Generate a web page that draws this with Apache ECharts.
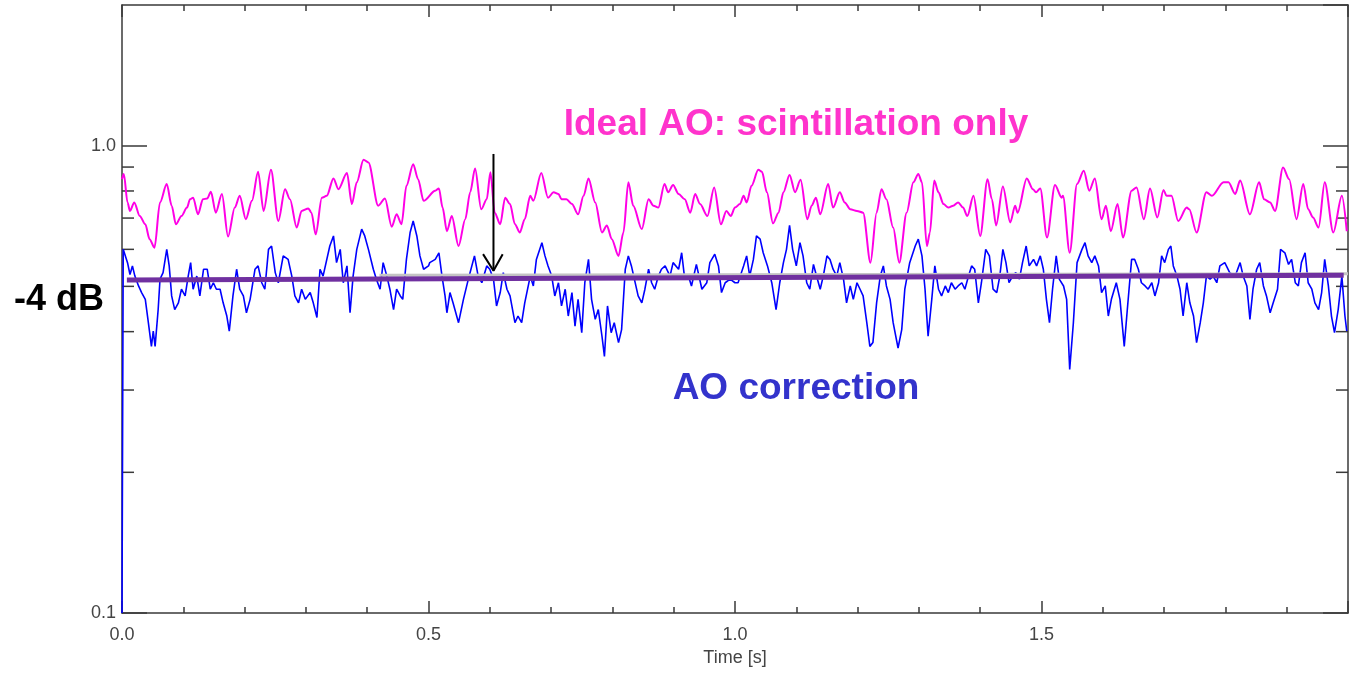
<!DOCTYPE html>
<html>
<head>
<meta charset="utf-8">
<style>
html,body{margin:0;padding:0;background:#fff;}
#chart{width:1352px;height:673px;}
</style>
<script src="https://cdn.jsdelivr.net/npm/echarts@6/dist/echarts.min.js"></script>
</head>
<body>
<div id="chart"></div>
<script>
// ---- Data (time in s, amplitude on log scale) ----
// Ideal AO: scintillation only (magenta)
const idealT = [0.000,0.003,0.009,0.013,0.020,0.029,0.038,0.045,0.053,0.062,0.073,0.081,0.088,0.097,0.106,0.111,0.116,0.124,0.132,0.139,0.145,0.153,0.163,0.173,0.184,0.192,0.202,0.212,0.222,0.231,0.243,0.255,0.266,0.274,0.285,0.293,0.304,0.309,0.316,0.326,0.334,0.345,0.353,0.367,0.375,0.383,0.394,0.402,0.418,0.429,0.440,0.448,0.456,0.464,0.475,0.483,0.492,0.511,0.517,0.523,0.530,0.538,0.549,0.560,0.568,0.576,0.586,0.595,0.601,0.608,0.617,0.625,0.633,0.641,0.649,0.657,0.666,0.671,0.684,0.695,0.704,0.712,0.717,0.725,0.734,0.744,0.753,0.761,0.772,0.783,0.791,0.799,0.810,0.818,0.826,0.834,0.848,0.859,0.867,0.875,0.885,0.891,0.899,0.908,0.918,0.927,0.935,0.943,0.955,0.966,0.977,0.986,0.993,1.000,1.008,1.014,1.019,1.027,1.038,1.044,1.052,1.062,1.071,1.079,1.089,1.098,1.107,1.118,1.125,1.132,1.139,1.152,1.160,1.171,1.179,1.188,1.199,1.209,1.221,1.231,1.239,1.247,1.258,1.268,1.280,1.291,1.299,1.305,1.313,1.318,1.325,1.332,1.340,1.348,1.356,1.364,1.372,1.379,1.389,1.400,1.412,1.419,1.426,1.437,1.449,1.457,1.461,1.476,1.486,1.491,1.498,1.509,1.522,1.533,1.535,1.546,1.558,1.569,1.578,1.587,1.598,1.605,1.613,1.624,1.633,1.647,1.655,1.667,1.677,1.689,1.699,1.704,1.712,1.723,1.737,1.741,1.753,1.769,1.778,1.797,1.805,1.816,1.824,1.840,1.855,1.863,1.873,1.881,1.894,1.904,1.916,1.927,1.935,1.943,1.952,1.962,1.976,1.990,1.998];
const idealV = [0.848,0.870,0.756,0.725,0.756,0.707,0.679,0.631,0.605,0.756,0.828,0.744,0.679,0.707,0.737,0.768,0.774,0.713,0.768,0.771,0.797,0.719,0.788,0.639,0.737,0.781,0.696,0.762,0.879,0.725,0.888,0.690,0.807,0.768,0.668,0.725,0.734,0.719,0.646,0.774,0.781,0.851,0.807,0.874,0.750,0.835,0.933,0.921,0.744,0.771,0.671,0.713,0.679,0.821,0.913,0.848,0.762,0.801,0.810,0.737,0.656,0.707,0.610,0.696,0.795,0.894,0.731,0.768,0.877,0.719,0.679,0.774,0.750,0.679,0.652,0.696,0.781,0.762,0.874,0.774,0.795,0.788,0.768,0.768,0.750,0.713,0.781,0.851,0.756,0.652,0.675,0.631,0.581,0.652,0.835,0.744,0.663,0.768,0.744,0.737,0.828,0.795,0.824,0.788,0.768,0.719,0.788,0.750,0.707,0.814,0.679,0.725,0.707,0.737,0.750,0.781,0.756,0.821,0.888,0.879,0.795,0.682,0.719,0.795,0.866,0.795,0.845,0.696,0.744,0.774,0.713,0.828,0.737,0.795,0.756,0.731,0.725,0.719,0.562,0.719,0.807,0.768,0.668,0.562,0.719,0.835,0.870,0.835,0.610,0.652,0.842,0.795,0.750,0.737,0.744,0.756,0.737,0.707,0.781,0.641,0.848,0.768,0.675,0.818,0.685,0.744,0.719,0.851,0.807,0.795,0.810,0.636,0.824,0.774,0.781,0.590,0.828,0.884,0.801,0.851,0.696,0.744,0.656,0.750,0.636,0.801,0.814,0.696,0.810,0.702,0.804,0.781,0.781,0.690,0.737,0.731,0.652,0.795,0.781,0.835,0.835,0.788,0.842,0.713,0.835,0.768,0.756,0.725,0.898,0.848,0.696,0.828,0.731,0.702,0.668,0.835,0.652,0.781,0.656];

// AO correction (blue)
const aoT = [
0.000,0.002,0.009,0.013,0.017,0.021,0.027,0.032,0.038,0.043,0.048,0.051,0.054,0.059,0.062,0.067,0.073,0.077,0.081,0.086,0.092,0.097,0.103,0.108,0.112,0.116,0.122,0.127,0.133,0.139,0.144,0.149,0.154,0.160,0.165,0.171,0.175,0.181,0.187,0.192,0.198,0.203,0.209,0.217,0.222,0.228,0.233,0.239,0.244,0.250,0.255,0.263,0.271,0.277,0.282,0.288,0.293,0.299,0.307,0.312,0.318,0.323,0.328,0.339,0.345,0.350,0.356,0.361,0.367,0.372,0.377,0.383,0.391,0.396,0.402,0.410,0.415,0.421,0.426,0.432,0.437,0.443,0.448,0.454,0.458,0.464,0.470,0.475,0.481,0.486,0.492,0.500,
0.502,0.511,0.517,0.522,0.527,0.530,0.535,0.540,0.549,0.557,0.565,0.575,0.581,0.587,0.595,0.600,0.606,0.611,0.617,0.622,0.628,0.633,0.641,0.646,0.652,0.657,0.666,0.671,0.676,0.685,0.690,0.695,0.701,0.706,0.712,0.717,0.723,0.728,0.734,0.739,0.744,0.750,0.755,0.761,0.766,0.772,0.777,0.783,0.787,0.792,0.798,0.803,0.810,0.815,0.821,0.826,0.831,0.842,0.848,0.853,0.859,0.864,0.869,0.875,0.880,0.886,0.894,0.899,0.908,0.913,0.918,0.924,0.929,0.937,0.946,0.954,0.959,0.967,0.973,0.978,0.984,0.992,1.000,
1.005,1.014,1.019,1.024,1.030,1.035,1.041,1.046,1.053,1.060,1.067,1.073,1.079,1.084,1.089,1.094,1.100,1.106,1.111,1.117,1.122,1.128,1.133,1.139,1.144,1.150,1.155,1.160,1.166,1.171,1.177,1.182,1.188,1.193,1.199,1.204,1.209,1.215,1.220,1.225,1.231,1.237,1.242,1.247,1.253,1.258,1.266,1.272,1.277,1.285,1.294,1.299,1.305,1.310,1.315,1.321,1.326,1.332,1.337,1.343,1.348,1.353,1.359,1.364,1.370,1.375,1.381,1.386,1.391,1.397,1.402,1.409,1.415,1.421,1.427,1.432,1.437,1.442,1.447,1.453,1.458,1.464,1.469,1.475,1.480,1.487,1.492,1.498,
1.503,1.508,1.513,1.518,1.524,1.529,1.536,1.541,1.546,1.552,1.558,1.566,1.571,1.576,1.582,1.587,1.593,1.598,1.604,1.609,1.614,1.622,1.628,1.635,1.640,1.647,1.652,1.658,1.663,1.669,1.674,1.680,1.685,1.691,1.696,1.701,1.707,1.711,1.715,1.721,1.726,1.731,1.737,1.742,1.748,1.753,1.759,1.764,1.769,1.775,1.780,1.786,1.791,1.799,1.807,1.816,1.824,1.829,1.835,1.840,1.845,1.851,1.856,1.862,1.867,1.873,1.878,1.885,1.890,1.897,1.903,1.908,1.914,1.919,1.924,1.930,1.935,1.941,1.946,1.952,1.957,1.962,1.968,1.973,1.978,1.984,1.990,1.995,1.998];
const aoV = [
0.100,0.600,0.562,0.530,0.553,0.526,0.501,0.485,0.469,0.418,0.372,0.401,0.372,0.446,0.518,0.535,0.600,0.553,0.477,0.446,0.461,0.493,0.477,0.526,0.562,0.493,0.526,0.477,0.544,0.544,0.493,0.509,0.493,0.493,0.461,0.432,0.401,0.477,0.544,0.493,0.477,0.439,0.469,0.544,0.553,0.509,0.493,0.600,0.610,0.535,0.509,0.581,0.571,0.526,0.477,0.461,0.493,0.469,0.485,0.461,0.429,0.544,0.526,0.610,0.641,0.562,0.600,0.509,0.553,0.439,0.526,0.600,0.663,0.641,0.600,0.544,0.518,0.493,0.562,0.526,0.493,0.446,0.493,0.477,0.469,0.571,0.652,0.690,0.641,0.581,0.544,0.553,
0.562,0.571,0.590,0.526,0.477,0.439,0.485,0.461,0.418,0.469,0.518,0.581,0.526,0.509,0.553,0.544,0.518,0.454,0.485,0.535,0.493,0.477,0.418,0.432,0.418,0.461,0.526,0.501,0.571,0.620,0.581,0.553,0.526,0.477,0.509,0.454,0.493,0.432,0.485,0.411,0.469,0.398,0.509,0.571,0.469,0.425,0.446,0.391,0.354,0.454,0.398,0.418,0.379,0.404,0.544,0.581,0.553,0.477,0.461,0.493,0.544,0.509,0.493,0.526,0.544,0.553,0.526,0.562,0.544,0.590,0.518,0.526,0.501,0.557,0.493,0.509,0.562,0.586,0.553,0.485,0.509,0.518,0.509,
0.509,0.553,0.581,0.526,0.571,0.641,0.631,0.590,0.553,0.509,0.446,0.509,0.562,0.600,0.675,0.600,0.553,0.620,0.581,0.509,0.493,0.557,0.526,0.493,0.526,0.581,0.571,0.544,0.526,0.562,0.518,0.461,0.501,0.469,0.509,0.493,0.477,0.418,0.372,0.379,0.461,0.526,0.553,0.501,0.469,0.418,0.369,0.404,0.493,0.562,0.610,0.631,0.581,0.493,0.391,0.469,0.553,0.493,0.477,0.501,0.485,0.509,0.493,0.501,0.509,0.493,0.526,0.553,0.544,0.461,0.509,0.600,0.581,0.493,0.485,0.526,0.600,0.562,0.509,0.526,0.535,0.518,0.562,0.610,0.553,0.571,0.553,0.581,
0.544,0.469,0.418,0.493,0.581,0.518,0.501,0.469,0.332,0.418,0.562,0.600,0.620,0.581,0.562,0.581,0.553,0.485,0.501,0.432,0.469,0.509,0.469,0.372,0.446,0.571,0.571,0.544,0.509,0.501,0.493,0.509,0.477,0.509,0.581,0.562,0.600,0.610,0.553,0.526,0.493,0.432,0.509,0.461,0.432,0.379,0.418,0.461,0.526,0.518,0.526,0.509,0.553,0.562,0.535,0.526,0.562,0.526,0.501,0.425,0.493,0.544,0.562,0.501,0.477,0.439,0.461,0.493,0.600,0.590,0.557,0.571,0.509,0.501,0.562,0.590,0.509,0.493,0.461,0.446,0.485,0.571,0.501,0.432,0.398,0.446,0.526,0.432,0.401];

// Annotation lines
const levelT = [0.008, 1.993];      // thick purple reference level
const levelV = [0.516, 0.528];
const greyT = [0.420, 2.000];       // light grey level
const greyV = [0.528, 0.532];
const arrowT = [0.606, 0.606];      // arrow shaft
const arrowV = [0.960, 0.540];
const headT = [0.589, 0.606, 0.621]; // arrow head
const headV = [0.586, 0.540, 0.586];

// Axis ticks
const yMinorTicks = [0.2, 0.3, 0.4, 0.5, 0.6, 0.7, 0.8, 0.9];

function zip(t, v, name) {
  if (t.length !== v.length) throw new Error(name + ' length mismatch ' + t.length + ' vs ' + v.length);
  return t.map((x, i) => [x, v[i]]);
}

const AX = '#3a3a3a';
const tickFont = '"Liberation Sans", Arial, sans-serif';
const boldFont = '"Liberation Sans", Arial, sans-serif';

const chart = echarts.init(document.getElementById('chart'), null, {renderer: 'canvas'});

const xCommon = {
  type: 'value', min: 0, max: 2, interval: 0.5,
  axisLine: {show: true, onZero: false, lineStyle: {color: AX, width: 1.5}},
  axisTick: {show: true, inside: true, length: 12, lineStyle: {color: AX, width: 1.5}},
  minorTick: {show: true, splitNumber: 5, length: 6, lineStyle: {color: AX, width: 1.5}},
  splitLine: {show: false}, minorSplitLine: {show: false}
};
const yCommon = {
  type: 'log', logBase: 10, min: 0.1, max: 2,
  axisLine: {show: true, onZero: false, lineStyle: {color: AX, width: 1.5}},
  axisTick: {show: true, inside: true, length: 25, lineStyle: {color: AX, width: 1.5}},
  splitLine: {show: false}
};

chart.setOption({
  animation: false,
  backgroundColor: '#ffffff',
  grid: {left: 122, right: 4, top: 5, bottom: 60, containLabel: false},
  xAxis: [
    Object.assign({}, xCommon, {
      position: 'bottom',
      axisLabel: {show: true, formatter: v => v.toFixed(1), showMaxLabel: false, color: '#444', fontSize: 18, fontFamily: tickFont, margin: 13},
      name: 'Time [s]', nameLocation: 'middle', nameGap: 35,
      nameTextStyle: {color: '#444', fontSize: 18, fontFamily: tickFont}
    }),
    Object.assign({}, xCommon, {position: 'top', axisLabel: {show: false}})
  ],
  yAxis: [
    Object.assign({}, yCommon, {
      position: 'left',
      axisLabel: {show: true, formatter: v => (+v).toFixed(1), showMaxLabel: false, color: '#444', fontSize: 18, fontFamily: tickFont, margin: 6}
    }),
    Object.assign({}, yCommon, {position: 'right', axisLabel: {show: false}})
  ],
  series: [
    {
      name: 'minor ticks', type: 'custom', xAxisIndex: 0, yAxisIndex: 0, silent: true, z: 1,
      data: yMinorTicks.map(v => [0, v]),
      renderItem: function (params, api) {
        const p = api.coord([0, api.value(1)]);
        const cs = params.coordSys;
        const st = {stroke: AX, lineWidth: 1.5};
        return {type: 'group', children: [
          {type: 'line', shape: {x1: cs.x, y1: p[1], x2: cs.x + 12, y2: p[1]}, style: st},
          {type: 'line', shape: {x1: cs.x + cs.width - 12, y1: p[1], x2: cs.x + cs.width, y2: p[1]}, style: st}
        ]};
      }
    },
    {
      name: 'Ideal AO: scintillation only', type: 'line', data: zip(idealT, idealV, 'ideal'),
      showSymbol: false, symbol: 'none', smooth: 0.3, smoothMonotone: 'x',
      lineStyle: {color: '#ff00e6', width: 2}, z: 3
    },
    {
      name: 'AO correction', type: 'line', data: zip(aoT, aoV, 'ao'),
      showSymbol: false, symbol: 'none', lineStyle: {color: '#0000ff', width: 1.6}, z: 3
    },
    {
      name: 'grey level', type: 'line', data: zip(greyT, greyV, 'grey'),
      showSymbol: false, symbol: 'none', lineStyle: {color: '#c4c4c4', width: 3}, z: 4
    },
    {
      name: '-4 dB level', type: 'line', data: zip(levelT, levelV, 'level'),
      showSymbol: false, symbol: 'none', lineStyle: {color: '#7030a0', width: 5}, z: 5
    },
    {
      name: 'arrow', type: 'line', data: zip(arrowT, arrowV, 'arrow'),
      showSymbol: false, symbol: 'none', lineStyle: {color: '#000000', width: 2}, z: 6
    },
    {
      name: 'arrow head', type: 'line', data: zip(headT, headV, 'head'),
      showSymbol: false, symbol: 'none', lineStyle: {color: '#000000', width: 2}, z: 6
    }
  ],
  graphic: [
    {type: 'text', x: 796, y: 125, z: 10, style: {text: 'Ideal AO: scintillation only', fill: '#ff33cc', font: 'bold 37px ' + boldFont, align: 'center', verticalAlign: 'middle', textAlign: 'center', textVerticalAlign: 'middle'}},
    {type: 'text', x: 796, y: 389, z: 10, style: {text: 'AO correction', fill: '#3333cc', font: 'bold 37px ' + boldFont, align: 'center', verticalAlign: 'middle', textAlign: 'center', textVerticalAlign: 'middle'}},
    {type: 'text', x: 59, y: 300, z: 10, style: {text: '-4 dB', fill: '#000000', font: 'bold 36px ' + boldFont, align: 'center', verticalAlign: 'middle', textAlign: 'center', textVerticalAlign: 'middle'}}
  ]
});
</script>
</body>
</html>
